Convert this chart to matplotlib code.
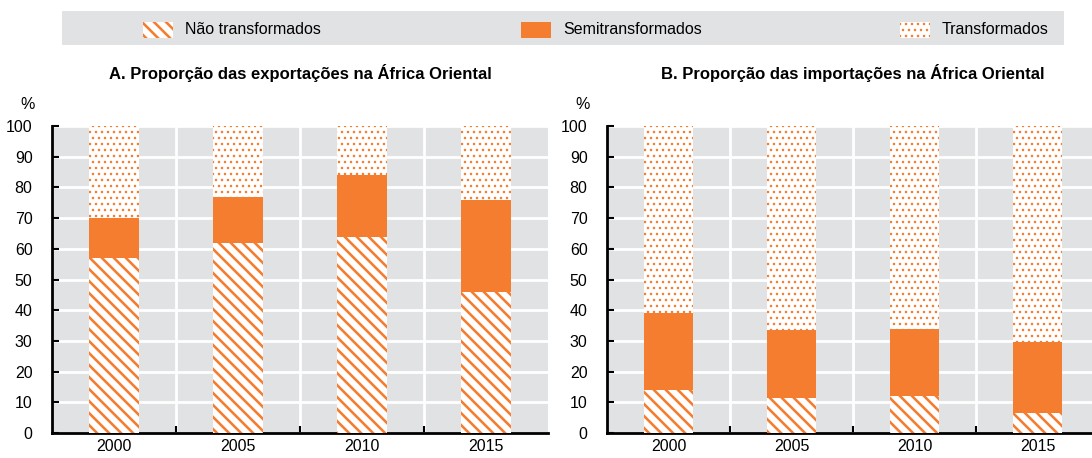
import matplotlib
matplotlib.use("Agg")
import matplotlib.pyplot as plt
from matplotlib.patches import Rectangle
import numpy as np

plt.rcParams['font.family'] = ['Liberation Sans Narrow', 'Liberation Sans', 'DejaVu Sans']

years = ['2000', '2005', '2010', '2015']
series = ['Não transformados', 'Semitransformados', 'Transformados']

# A. exportações
exp_nao = [57, 62, 64, 46]
exp_semi = [13, 15, 20, 30]
exp_trans = [30, 23, 16, 24]

# B. importações
imp_nao = [14, 11.5, 12, 6.5]
imp_semi = [25, 22, 22, 23]
imp_trans = [61, 66.5, 66, 70.5]

titles = ['A. Proporção das exportações na África Oriental',
          'B. Proporção das importações na África Oriental']

ORANGE = '#F47D30'
GREY = '#E1E2E4'
# figura a 72 dpi para a trama ficar mais fina; S converte tamanhos de 100 dpi
DPI = 72
S = 100 / DPI
W, H = 1092, 458


def hatched_bars(ax, x, h, bottom, hatch, lw):
    with plt.rc_context({'hatch.linewidth': lw}):
        bars = ax.bar(x, h, 0.4, bottom=bottom, color='white', edgecolor=ORANGE,
                      linewidth=0, hatch=hatch, zorder=3)
    for b in bars:
        if hasattr(b, 'set_hatch_linewidth'):
            b.set_hatch_linewidth(lw)
    return bars


def draw_panel(ax, nao, semi, trans, title):
    x = np.arange(len(years))
    nao = np.array(nao)
    semi = np.array(semi)
    trans = np.array(trans)
    hatched_bars(ax, x, nao, 0, '\\\\', 2.6)
    ax.bar(x, semi, 0.4, bottom=nao, color=ORANGE, linewidth=0, zorder=3)
    hatched_bars(ax, x, trans, nao + semi, '..', 1.3)

    ax.set_facecolor(GREY)
    ax.set_xlim(-0.5, 3.5)
    ax.set_ylim(0, 100)
    ax.set_yticks(range(0, 101, 10))
    ax.set_xticks(x)
    ax.set_xticklabels(years)
    ax.set_xticks(x[:-1] + 0.5, minor=True)
    ax.grid(True, which='minor', axis='x', color='white', lw=2 * S, zorder=1)
    ax.grid(True, which='major', axis='y', color='white', lw=2 * S, zorder=1)
    ax.tick_params(axis='x', which='major', length=0, labelsize=11.5 * S, pad=4 * S)
    ax.tick_params(axis='x', which='minor', direction='in', length=5 * S, width=1.5 * S)
    ax.tick_params(axis='y', direction='in', length=5 * S, width=1.5 * S,
                   labelsize=11.5 * S, pad=14 * S)
    for s in ['top', 'right']:
        ax.spines[s].set_visible(False)
    for s in ['left', 'bottom']:
        ax.spines[s].set_linewidth(2 * S)
    ax.text(-0.05, 1.055, '%', transform=ax.transAxes, fontsize=11.5 * S, ha='center')
    ax.set_title(title, fontsize=12 * S, fontweight='bold', pad=34 * S)


fig = plt.figure(figsize=(W / DPI, H / DPI), dpi=DPI)
ax1 = fig.add_axes([52 / W, 25 / H, 496 / W, 307 / H])
ax2 = fig.add_axes([607 / W, 25 / H, 492 / W, 307 / H])
draw_panel(ax1, exp_nao, exp_semi, exp_trans, titles[0])
draw_panel(ax2, imp_nao, imp_semi, imp_trans, titles[1])

# legenda no topo
fig.patches.append(Rectangle((62 / W, 1 - 44 / H), 1001 / W, 33 / H,
                             transform=fig.transFigure, color=GREY, zorder=0))
leg_x = [143, 521, 900]
styles = [dict(facecolor='white', hatch='\\\\', lw=2.6),
          dict(facecolor=ORANGE, hatch=None, lw=1),
          dict(facecolor='white', hatch='..', lw=1.3)]
for lx, name, st in zip(leg_x, series, styles):
    with plt.rc_context({'hatch.linewidth': st['lw']}):
        r = Rectangle((lx / W, 1 - 38 / H), 30 / W, 16 / H,
                      transform=fig.transFigure, facecolor=st['facecolor'],
                      edgecolor=ORANGE, linewidth=0, hatch=st['hatch'], zorder=1)
    if hasattr(r, 'set_hatch_linewidth'):
        r.set_hatch_linewidth(st['lw'])
    fig.patches.append(r)
    fig.text((lx + 42) / W, 1 - 30 / H, name, fontsize=11.5 * S, va='center', ha='left')

fig.savefig('out.png', dpi=DPI)
